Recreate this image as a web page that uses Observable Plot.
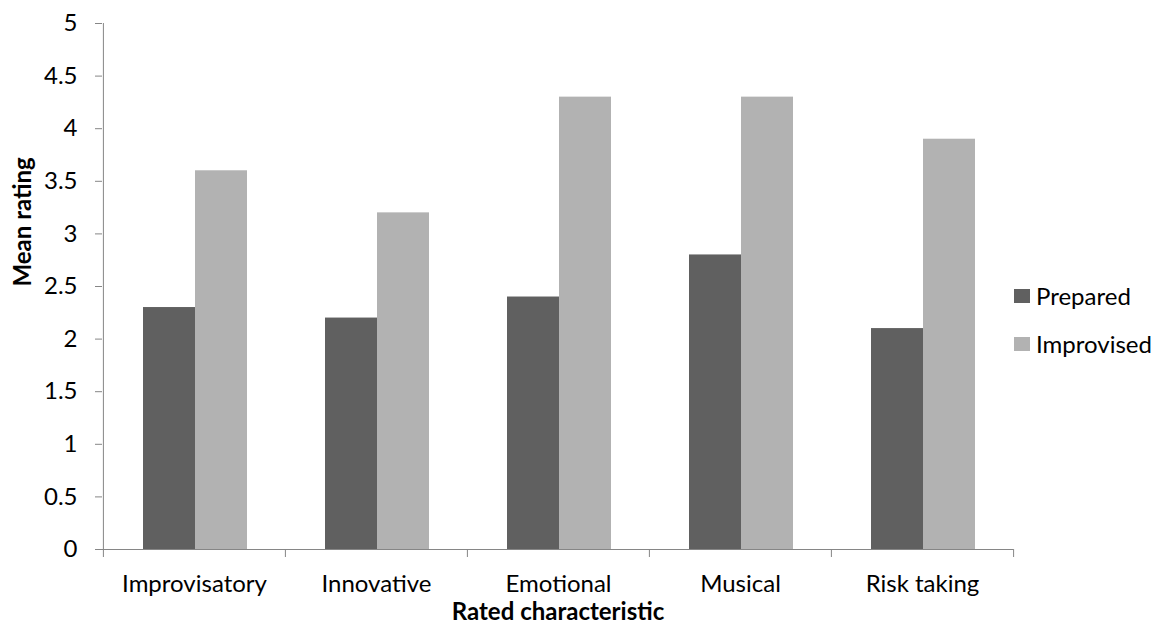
<!DOCTYPE html>
<html>
<head>
<meta charset="utf-8">
<script src="https://cdn.jsdelivr.net/npm/d3@7"></script>
<script src="https://cdn.jsdelivr.net/npm/@observablehq/plot@0.6"></script>
<style>
  html, body { margin: 0; padding: 0; background: #fff; }
  #wrap { position: relative; width: 1162px; height: 629px; font-family: Lato, "Open Sans", sans-serif; }
  .legend { position: absolute; left: 1014px; font-size: 24px; color: #000; display: flex; align-items: center; }
  .legend .sw { width: 16px; height: 14px; margin-right: 6px; }
</style>
</head>
<body>
<div id="wrap"></div>
<script>
const categories = ["Improvisatory", "Innovative", "Emotional", "Musical", "Risk taking"];
const prepared = [2.3, 2.2, 2.4, 2.8, 2.1];
const improvised = [3.6, 3.2, 4.3, 4.3, 3.9];
const seriesNames = ["Prepared", "Improvised"];
const seriesColors = ["#606060", "#b2b2b2"];
const yTicks = [0, 0.5, 1, 1.5, 2, 2.5, 3, 3.5, 4, 4.5, 5];
const yLabel = "Mean rating";
const xLabel = "Rated characteristic";

const rows = categories.flatMap((c, i) => [
  {category: c, series: seriesNames[0], value: prepared[i]},
  {category: c, series: seriesNames[1], value: improvised[i]}
]);

const W = 1162, H = 629;
const mL = 102, mR = 149, mT = 23, mB = 80;
const half = (W - mL - mR) / categories.length / 2;
const gray = "#868686";

const chart = Plot.plot({
  width: W,
  height: H,
  marginLeft: mL,
  marginRight: mR,
  marginTop: mT,
  marginBottom: mB,
  style: {fontFamily: "Lato, 'Open Sans', sans-serif", fontSize: "24px", color: "#000", background: "#fff", overflow: "visible"},
  x: {domain: categories, padding: 0},
  y: {domain: [0, 5]},
  color: {domain: seriesNames, range: seriesColors},
  marks: [
    Plot.barY(rows.filter(d => d.series === seriesNames[0]), {x: "category", y: "value", fill: "series", insetLeft: 40, insetRight: 90}),
    Plot.barY(rows.filter(d => d.series === seriesNames[1]), {x: "category", y: "value", fill: "series", insetLeft: 92, insetRight: 38}),
    Plot.ruleY([0], {stroke: gray}),
    Plot.ruleX([categories[0]], {x: d => d, dx: -half, stroke: gray}),
    Plot.axisY({ticks: yTicks, tickSize: 7, tickPadding: 18, tickFormat: d => String(d), stroke: gray, fill: "#000", label: null}),
    Plot.axisX({ticks: categories, tickSize: 8, dx: -half, tickFormat: () => "", stroke: gray, label: null}),
    Plot.axisX({ticks: [categories[categories.length - 1]], tickSize: 8, dx: half, tickFormat: () => "", stroke: gray, label: null}),
    Plot.axisX({ticks: categories, tickSize: 0, tickPadding: 25, fill: "#000", label: null}),
    Plot.text([yLabel], {text: d => d, frameAnchor: "left", dx: -79, rotate: -90, fontWeight: "bold", fontSize: 24, fill: "#000"}),
    Plot.text([xLabel], {text: d => d, frameAnchor: "bottom", dy: 70, fontWeight: "bold", fontSize: 24, fill: "#000"})
  ]
});

const wrap = document.getElementById("wrap");
wrap.appendChild(chart);

seriesNames.forEach((name, i) => {
  const item = document.createElement("div");
  item.className = "legend";
  item.style.top = (281 + i * 48) + "px";
  const sw = document.createElement("div");
  sw.className = "sw";
  sw.style.background = seriesColors[i];
  const label = document.createElement("span");
  label.textContent = name;
  item.appendChild(sw);
  item.appendChild(label);
  wrap.appendChild(item);
});
</script>
</body>
</html>
